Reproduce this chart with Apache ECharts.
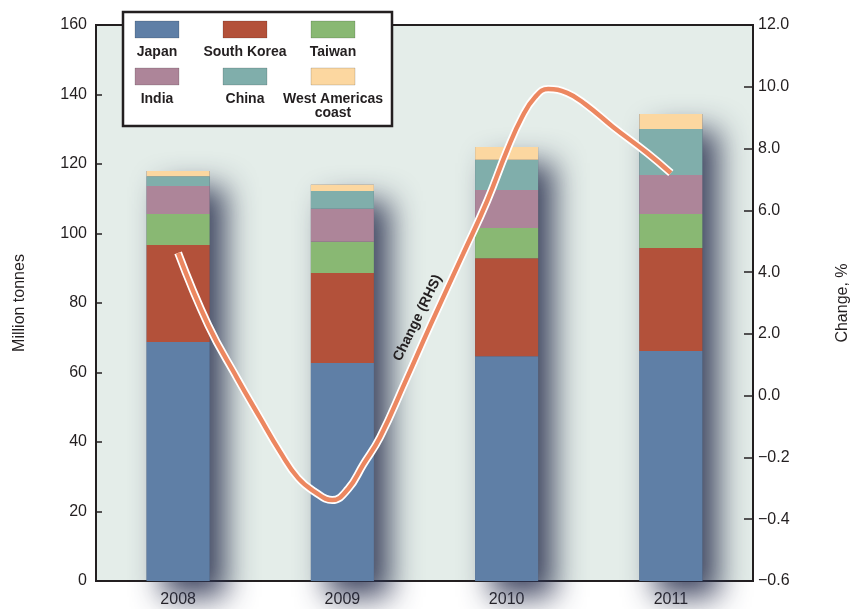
<!DOCTYPE html>
<html>
<head>
<meta charset="utf-8">
<script src="https://cdn.jsdelivr.net/npm/echarts@6/dist/echarts.min.js"></script>
<style>
  html, body { margin: 0; padding: 0; background: #ffffff; }
  #chart { width: 852px; height: 609px; }
</style>
</head>
<body>
<div id="chart"></div>
<script>
// Seaborne shipments by destination, million tonnes (stacked) and annual change (%)
const years = ['2008', '2009', '2010', '2011'];
const japan        = [68.8, 62.7, 64.7, 66.2];
const southKorea   = [27.9, 25.9, 28.2, 29.6];
const taiwan       = [8.9, 9.0, 8.7, 9.8];
const india        = [8.1, 9.5, 10.9, 11.2];
const china        = [2.8, 5.1, 8.7, 13.3];
const westAmericas = [1.5, 1.8, 3.7, 4.3];

const seriesNames  = ['Japan', 'South Korea', 'Taiwan', 'India', 'China', 'West Americas\ncoast'];
const seriesColors = ['#5f7fa6', '#b3513a', '#89b873', '#ad8599', '#80aeab', '#fcd7a0'];

// Left axis ticks (million tonnes)
const leftMin = 0, leftMax = 160, leftStep = 20;

// Right axis tick labels, evenly spaced from bottom to top
const rightTicks = ['\u22120.6', '\u22120.4', '\u22120.2', '0.0', '2.0', '4.0', '6.0', '8.0', '10.0', '12.0'];

// Change (RHS), %
const changeYear = [2008.000, 2008.183, 2008.359, 2008.499, 2008.621, 2008.731, 2008.834, 2008.938,
                    2009.035, 2009.126, 2009.230, 2009.382, 2009.534, 2009.735, 2009.881, 2010.003,
                    2010.094, 2010.174, 2010.253, 2010.368, 2010.478, 2010.648, 2010.855, 2011.000];
const changePct  = [4.62, 2.29, 0.57, -0.072, -0.182, -0.267, -0.312, -0.338,
                    -0.302, -0.224, -0.134, 0.44, 2.26, 4.59, 6.30, 7.95,
                    9.02, 9.67, 9.93, 9.80, 9.44, 8.70, 7.86, 7.21];

// The right axis is piecewise: each labelled step is one equal division
const tickNums = rightTicks.map(t => parseFloat(t.replace('\u2212', '-')));
function toRightPos(v) {
  for (let i = 0; i < tickNums.length - 1; i++) {
    const a = tickNums[i], b = tickNums[i + 1];
    if (v >= a && v <= b) return i + (v - a) / (b - a);
  }
  return v < tickNums[0] ? 0 : tickNums.length - 1;
}

const stacks = [japan, southKorea, taiwan, india, china, westAmericas];
const totals = years.map((_, i) => stacks.reduce((s, arr) => s + arr[i], 0));
const changeData = changeYear.map((y, i) => [y, toRightPos(changePct[i])]);

const BAR_W = 63;
const FONT = '"Liberation Sans", Arial, sans-serif';
const NARROW = '"Liberation Sans Narrow", "Liberation Sans", Arial, sans-serif';

const chart = echarts.init(document.getElementById('chart'), null, { renderer: 'canvas' });

const barSeries = stacks.map((arr, k) => ({
  name: seriesNames[k],
  type: 'bar',
  stack: 'total',
  xAxisIndex: 0,
  yAxisIndex: 0,
  barWidth: BAR_W,
  barGap: '-100%',
  z: 3,
  data: arr,
  itemStyle: { color: seriesColors[k], borderWidth: 0 },
  emphasis: { disabled: true }
}));

// Soft drop shadow behind each column
const shadowSeries = {
  type: 'bar',
  xAxisIndex: 0,
  yAxisIndex: 0,
  barWidth: BAR_W,
  barGap: '-100%',
  z: 2,
  data: totals,
  itemStyle: {
    color: '#46506b',
    shadowColor: 'rgba(45,52,82,0.9)',
    shadowBlur: 30,
    shadowOffsetX: 16,
    shadowOffsetY: 16
  },
  emphasis: { disabled: true },
  silent: true
};

const lineBase = {
  type: 'line',
  xAxisIndex: 1,
  yAxisIndex: 1,
  smooth: 0.45,
  symbol: 'none',
  data: changeData,
  silent: true
};

// Legend drawn as a framed key with swatches above their labels
const legendGraphics = [{
  type: 'rect',
  shape: { x: 123, y: 12, width: 269, height: 114 },
  style: { fill: '#ffffff', stroke: '#231f20', lineWidth: 2.5 },
  z: 10
}];
const colX = [135, 223, 311];
const rowY = [21, 68];
seriesNames.forEach((name, k) => {
  const cx = colX[k % 3], ry = rowY[Math.floor(k / 3)];
  legendGraphics.push({
    type: 'rect',
    shape: { x: cx, y: ry, width: 44, height: 17 },
    style: { fill: seriesColors[k], stroke: 'rgba(0,0,0,0.15)', lineWidth: 1 },
    z: 11
  });
  legendGraphics.push({
    type: 'text',
    x: cx + 22,
    y: ry + 24,
    style: {
      text: name,
      fill: '#231f20',
      font: 'bold 14px ' + NARROW,
      align: 'center',
      verticalAlign: 'top',
      lineHeight: 14
    },
    z: 11
  });
});

chart.setOption({
  animation: false,
  backgroundColor: '#ffffff',
  grid: {
    left: 96, right: 99, top: 25, bottom: 28,
    containLabel: false,
    outerBoundsMode: 'none',
    show: true,
    backgroundColor: '#e4ede9',
    borderColor: '#231f20',
    borderWidth: 2
  },
  xAxis: [{
    type: 'category',
    data: years,
    axisLine: { show: true, lineStyle: { color: '#231f20', width: 2 } },
    axisTick: { show: false },
    axisLabel: { color: '#231f20', fontSize: 16, fontFamily: FONT, margin: 11 }
  }, {
    type: 'value',
    min: 2007.5,
    max: 2011.5,
    show: false
  }],
  yAxis: [{
    type: 'value',
    min: leftMin,
    max: leftMax,
    interval: leftStep,
    position: 'left',
    name: 'Million tonnes',
    nameLocation: 'middle',
    nameGap: 68,
    nameTextStyle: { color: '#231f20', fontSize: 16, fontFamily: FONT },
    axisLine: { show: true, lineStyle: { color: '#231f20', width: 2 } },
    axisTick: { show: true, inside: true, length: 6, lineStyle: { color: '#231f20', width: 1.5 } },
    axisLabel: { color: '#231f20', fontSize: 16, fontFamily: FONT, margin: 9 },
    splitLine: { show: false }
  }, {
    type: 'value',
    min: 0,
    max: rightTicks.length - 1,
    interval: 1,
    position: 'right',
    name: 'Change, %',
    nameLocation: 'middle',
    nameGap: 82,
    nameRotate: 90,
    nameTextStyle: { color: '#231f20', fontSize: 16, fontFamily: FONT },
    axisLine: { show: true, lineStyle: { color: '#231f20', width: 2 } },
    axisTick: { show: true, inside: true, length: 9, lineStyle: { color: '#231f20', width: 1.5 } },
    axisLabel: {
      color: '#231f20', fontSize: 16, fontFamily: FONT, margin: 5,
      formatter: v => rightTicks[Math.round(v)]
    },
    splitLine: { show: false }
  }],
  series: [shadowSeries].concat(barSeries).concat([
    Object.assign({}, lineBase, { z: 5, lineStyle: { color: '#ffffff', width: 8, cap: 'butt' } }),
    Object.assign({}, lineBase, { z: 6, lineStyle: { color: '#ec8760', width: 4.5, cap: 'butt' } })
  ]),
  graphic: legendGraphics
});

// Caption running along the rising stretch of the change line
const lineIdx = 1 + stacks.length + 1;
const anchor = chart.convertToPixel({ seriesIndex: lineIdx }, [2009.55, toRightPos(2.45)]);
const ang = 64 * Math.PI / 180;
chart.setOption({
  graphic: legendGraphics.concat([{
    type: 'text',
    x: anchor[0] - 15,
    y: anchor[1] - 2,
    rotation: ang,
    style: {
      text: 'Change (RHS)',
      fill: '#231f20',
      font: 'bold 14px ' + NARROW,
      align: 'center',
      verticalAlign: 'middle'
    },
    z: 12
  }])
});
</script>
</body>
</html>
